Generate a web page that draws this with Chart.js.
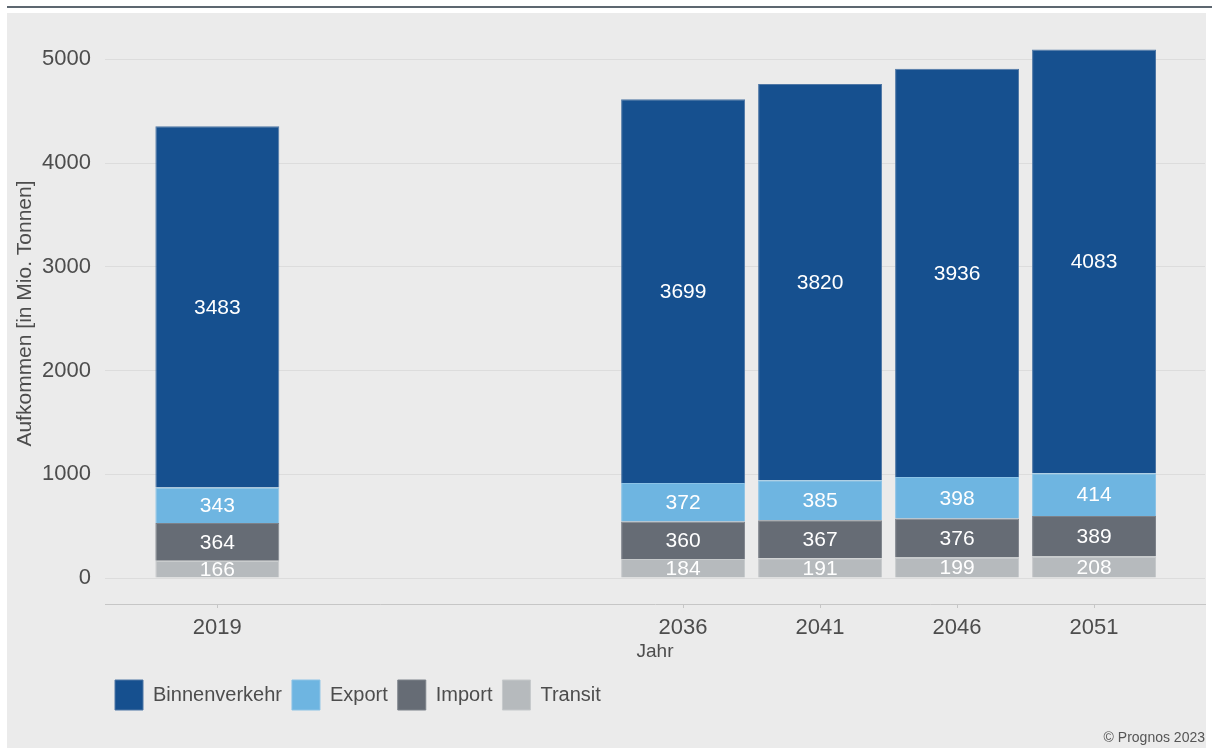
<!DOCTYPE html>
<html lang="de">
<head>
<meta charset="utf-8">
<title>Güterverkehrsaufkommen</title>
<script src="https://cdn.jsdelivr.net/npm/chart.js@4.4.1/dist/chart.umd.min.js"></script>
<style>
  html, body { margin: 0; padding: 0; background: #ffffff; }
  body { width: 1212px; height: 751px; position: relative; overflow: hidden; }
  #topline { position: absolute; left: 7px; top: 6px; width: 1205px; height: 2px; background: #5d6770; }
  #panel { position: absolute; left: 7px; top: 13px; width: 1199px; height: 735px; background: #ebebeb; }
  #copy { position: absolute; right: 7px; bottom: 6px; font: 14px "Liberation Sans", Arial, sans-serif; color: #555; }
</style>
</head>
<body>
<div id="topline"></div>
<div id="panel"><canvas id="myChart" width="1199" height="735"></canvas></div>
<div id="copy">© Prognos 2023</div>

<script>
/*------------------------------DATA--------------------------------------------*/

const years = [2019, 2036, 2041, 2046, 2051];

const transit = [166, 184, 191, 199, 208];
const importe = [364, 360, 367, 376, 389];
const exporte = [343, 372, 385, 398, 414];
const binnen = [3483, 3699, 3820, 3936, 4083];

const yTicks = [0, 1000, 2000, 3000, 4000, 5000];

const FONT = '"Liberation Sans", Arial, sans-serif';

function points(vals) {
    return years.map((yr, i) => ({ x: yr, y: vals[i] }));
}

// Transit first so it sits at the bottom of each stack
const data = {
    datasets: [
        { label: 'Transit', data: points(transit), backgroundColor: '#b6babd', borderColor: '#c6c9cb' },
        { label: 'Import', data: points(importe), backgroundColor: '#666c75', borderColor: '#7d828a' },
        { label: 'Export', data: points(exporte), backgroundColor: '#6eb5e1', borderColor: '#8cc3e6' },
        { label: 'Binnenverkehr', data: points(binnen), backgroundColor: '#16508f', borderColor: '#4f77a5' },
    ]
};

/*------------------------------PLUGINS-----------------------------------------*/

// white value in the middle of every segment
const barLabels = {
    id: 'barLabels',
    afterDatasetsDraw(chart) {
        const ctx = chart.ctx;
        ctx.save();
        ctx.font = '21px ' + FONT;
        ctx.fillStyle = '#ffffff';
        ctx.textAlign = 'center';
        ctx.textBaseline = 'middle';
        chart.data.datasets.forEach((ds, di) => {
            const meta = chart.getDatasetMeta(di);
            meta.data.forEach((bar, i) => {
                ctx.fillText(String(ds.data[i].y), bar.x, (bar.y + bar.base) / 2 + 1);
            });
        });
        ctx.restore();
    }
};

// legend lines up with the plot area instead of the canvas edge
const legendShift = {
    id: 'legendShift',
    afterLayout(chart) {
        chart.legend.left = chart.chartArea.left;
    }
};

/*------------------------------CONFIG------------------------------------------*/

const config = {
    type: 'bar',
    data: data,
    options: {
        responsive: false,
        animation: false,
        categoryPercentage: 1,
        barPercentage: 0.905,
        borderWidth: 1,
        layout: { padding: { top: 10, right: 1, left: 0, bottom: 28 } },
        scales: {
            x: {
                type: 'linear',
                stacked: true,
                offset: false,
                min: 2014.9,
                max: 2055.05,
                afterBuildTicks: (scale) => { scale.ticks = years.map(v => ({ value: v })); },
                ticks: { color: '#4d4d4d', font: { family: FONT, size: 22, lineHeight: 1 }, padding: 9, callback: (v) => String(v) },
                grid: { offset: false, drawOnChartArea: false, drawTicks: true, tickLength: 4, color: '#c6c6c6' },
                border: { color: '#c6c6c6', width: 1 },
                title: { display: true, text: 'Jahr', color: '#4d4d4d', font: { family: FONT, size: 19, lineHeight: 1 }, padding: { top: -6, bottom: 9 } }
            },
            y: {
                stacked: true,
                min: -250,
                max: 5350,
                afterBuildTicks: (scale) => { scale.ticks = yTicks.map(v => ({ value: v })); },
                afterFit: (scale) => {
                    scale.width = 98;
                    // the top label sits well inside the range, no extra room needed
                    scale.paddingTop = 0;
                    scale.paddingBottom = 0;
                },
                ticks: { color: '#4d4d4d', font: { family: FONT, size: 22 }, padding: 14, callback: (v) => String(v) },
                grid: { color: '#dcdcdc', drawTicks: false },
                border: { display: false },
                title: { display: true, text: 'Aufkommen [in Mio. Tonnen]', color: '#4d4d4d', font: { family: FONT, size: 21 }, padding: { top: 6, bottom: 0 } }
            }
        },
        plugins: {
            legend: {
                position: 'bottom',
                align: 'start',
                reverse: true,
                labels: {
                    boxWidth: 28,
                    boxHeight: 30,
                    padding: 10,
                    color: '#4d4d4d',
                    font: { family: FONT, size: 20 }
                }
            },
            tooltip: { enabled: false }
        }
    },
    plugins: [barLabels, legendShift]
};

const myChart = new Chart(document.getElementById('myChart'), config);
</script>
</body>
</html>
